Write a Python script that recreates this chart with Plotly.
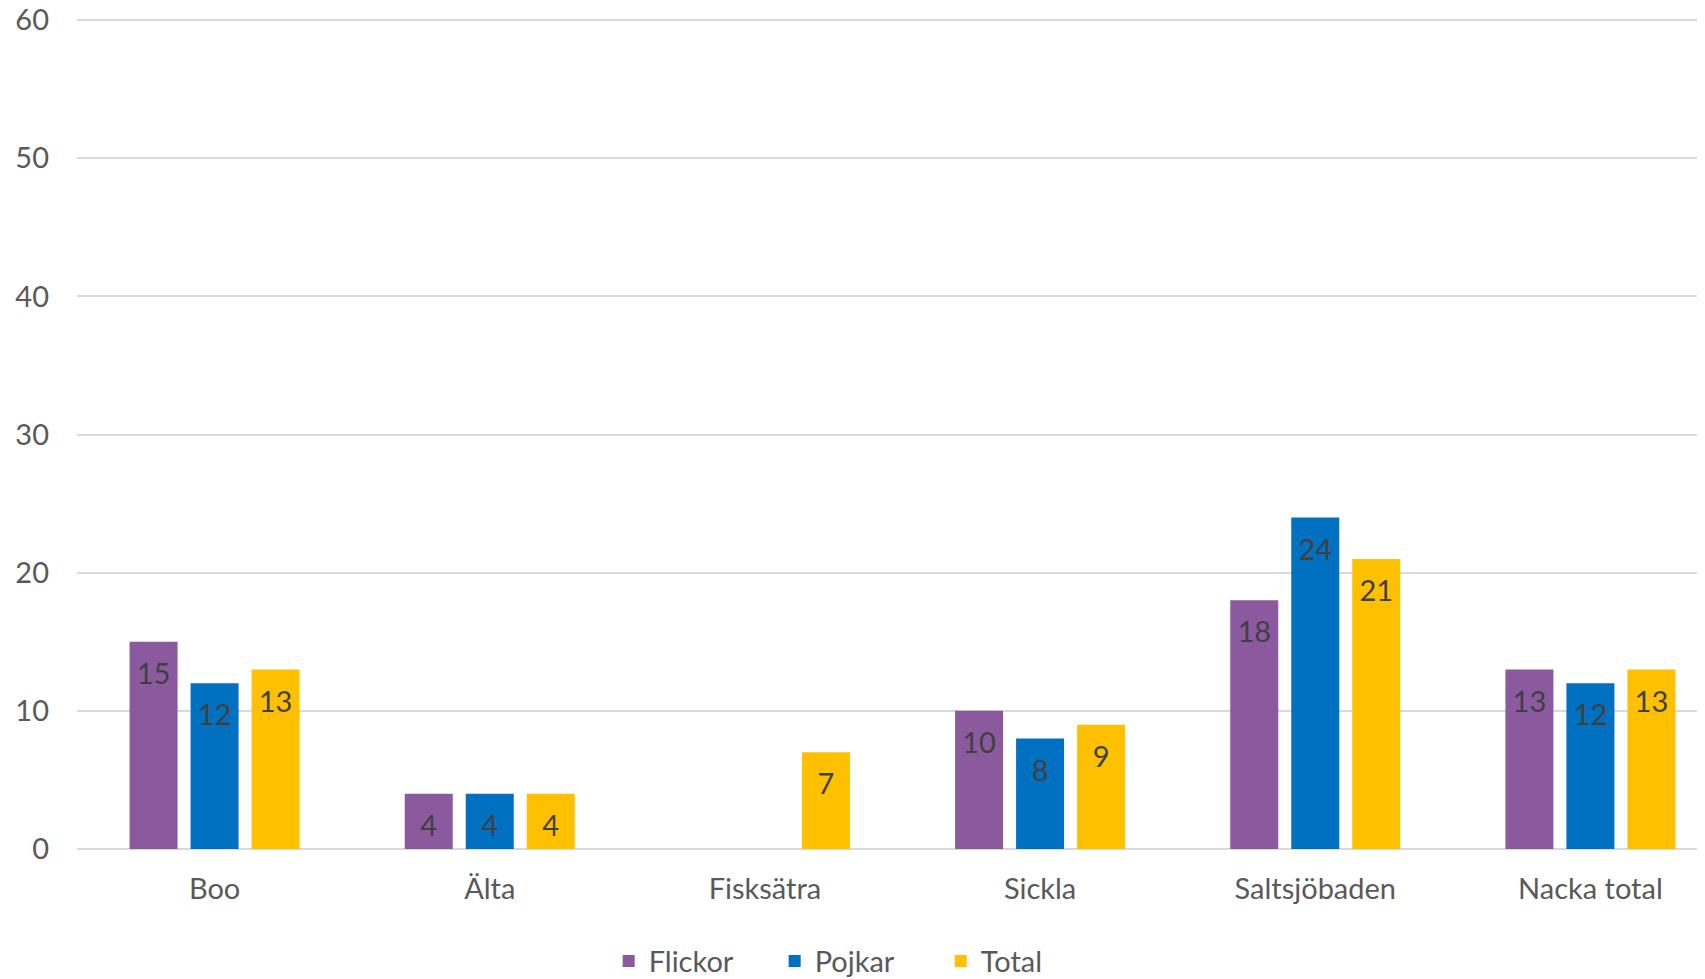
import plotly.graph_objects as go

# Data
categories = ['Boo', 'Älta', 'Fisksätra', 'Sickla', 'Saltsjöbaden', 'Nacka total']
flickor = [15, 4, None, 10, 18, 13]
pojkar = [12, 4, None, 8, 24, 12]
total = [13, 4, 7, 9, 21, 13]
y_ticks = [0, 10, 20, 30, 40, 50, 60]

series = [
    ('Flickor', flickor, '#8B5A9E'),
    ('Pojkar', pojkar, '#0070C0'),
    ('Total', total, '#FFC000'),
]

FONT = 'Lato, "Open Sans", sans-serif'
GAP = 0.335

fig = go.Figure()

for name, values, color in series:
    fig.add_trace(
        go.Bar(
            x=categories,
            y=values,
            name=name,
            marker=dict(color=color, line=dict(width=0)),
        )
    )

# value labels: invisible markers push the text a bit below the bar top
for name, values, color in series:
    fig.add_trace(
        go.Scatter(
            x=categories,
            y=values,
            mode='markers+text',
            marker=dict(size=31, opacity=0),
            text=[str(v) if v is not None else '' for v in values],
            textposition='bottom center',
            textfont=dict(size=29, color='#404040', family=FONT),
            showlegend=False,
            hoverinfo='skip',
            cliponaxis=False,
        )
    )

# page body has an 8px margin, so the figure sits 8px in from the window edge
fig.update_layout(
    width=1720,
    height=971,
    barmode='group',
    bargap=GAP,
    bargroupgap=0.213,
    scattermode='group',
    scattergap=GAP,
    plot_bgcolor='white',
    paper_bgcolor='white',
    margin=dict(l=69, r=0, t=10, b=130, autoexpand=False),
    font=dict(family=FONT, size=29, color='#595959'),
    showlegend=True,
    legend=dict(
        orientation='h',
        xref='container',
        x=0.494,
        xanchor='center',
        yref='paper',
        y=-0.135,
        yanchor='middle',
        font=dict(size=29, color='#595959', family=FONT),
        entrywidth=121,
        itemsizing='constant',
        traceorder='normal',
    ),
)

fig.update_yaxes(
    range=[0, 60.15],
    tickvals=y_ticks,
    automargin=False,
    showgrid=True,
    gridcolor='#D9D9D9',
    gridwidth=2,
    zeroline=True,
    zerolinecolor='#D9D9D9',
    zerolinewidth=2,
    showline=False,
    ticks='',
    ticklabelstandoff=27,
    ticklabeloverflow='allow',
    tickfont=dict(size=29, color='#595959'),
)

fig.update_xaxes(
    automargin=False,
    showgrid=False,
    showline=False,
    ticks='',
    ticklabelstandoff=20,
    tickfont=dict(size=29, color='#595959'),
)

fig.write_html('out.html')
